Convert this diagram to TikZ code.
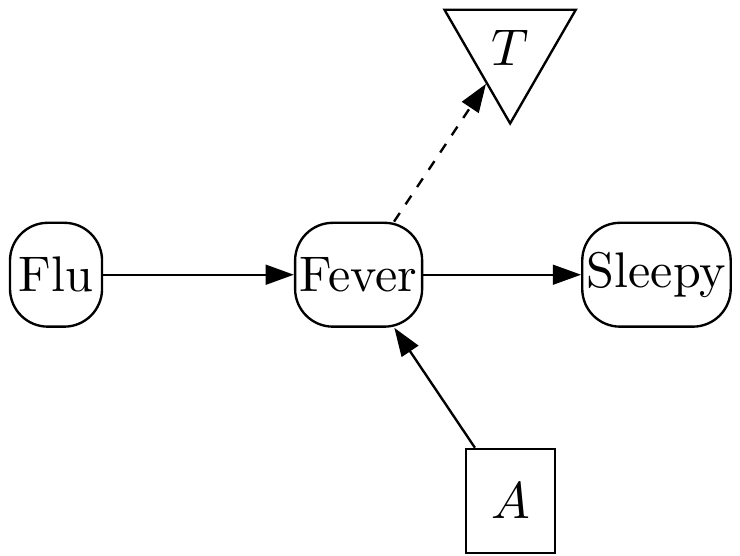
\documentclass[tikz,border=0pt]{standalone}
\usepackage{tikz}
\usetikzlibrary{positioning,arrows.meta,shapes.geometric}
\tikzset{
  node-chance/.style={draw,line width=0.5pt,rounded corners=8pt,
    minimum height=22pt,minimum width=19.5pt,inner xsep=1pt},
  node-decision/.style={draw,line width=0.5pt,rectangle,
    minimum height=22pt,minimum width=18.9pt},
  node-utility/.style={draw,line width=0.5pt,regular polygon,
    regular polygon sides=3,shape border rotate=180,
    minimum size=32.1pt,inner sep=0pt},
  arrow/.style={-{Triangle[length=6pt,width=4.2pt]},line width=0.5pt},
  arrow-info/.style={arrow,dash pattern=on 2.2pt off 2.2pt},
}

\begin{document}
\begin{tikzpicture}[on grid,every node/.append style={font=\fontsize{10.6pt}{12pt}\selectfont}]
  \useasboundingbox (-11.87pt,-59.4pt) rectangle (144.9pt,58.2pt);
  \node[node-chance]                                       (flu)    {Flu};
  \node[node-chance,right=64.1pt of flu]                   (fever)  {Fever};
  \node[node-chance,right=63.1pt of fever]                 (sleepy) {Sleepy};
  \node[node-utility,above right=48.1pt and 32.1pt of fever] (t)    {$T$};
  \node[node-decision,below right=47.9pt and 32.2pt of fever] (a)   {$A$};
  \draw[arrow]      (flu)   -- (fever);
  \draw[arrow]      (fever) -- (sleepy);
  \draw[arrow]      (a)     -- (fever);
  \draw[arrow-info] (fever) -- (t);
\end{tikzpicture}
\end{document}
